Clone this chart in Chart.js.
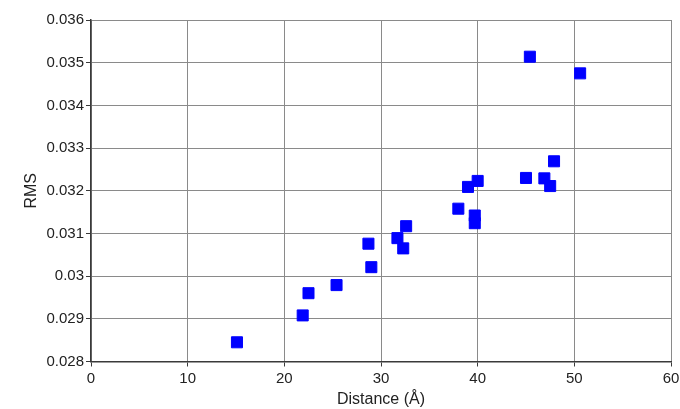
<!DOCTYPE html>
<html>
<head>
<meta charset="utf-8">
<script src="https://cdn.jsdelivr.net/npm/chart.js@4.4.1/dist/chart.umd.min.js"></script>
<style>
  html, body { margin: 0; padding: 0; background: #ffffff; }
  #wrap { width: 680px; height: 409px; }
</style>
</head>
<body>
<div id="wrap"><canvas id="chart" width="680" height="409"></canvas></div>
<script>
// Distance (Å) against RMS for each measured pair
const distance = [15.1, 21.9, 22.5, 25.4, 28.7, 29.0, 31.7, 32.6, 32.3, 38.0,
                  39.7, 39.7, 39.0, 40.0, 45.4, 50.6, 45.0, 46.9, 47.5, 47.9];
const rms = [0.02845, 0.02908, 0.02960, 0.02979, 0.03076, 0.03021, 0.03089, 0.03117, 0.03065, 0.03158,
             0.03142, 0.03124, 0.03209, 0.03223, 0.03514, 0.03475, 0.03230, 0.03229, 0.03211, 0.03269];

const xTicks = [0, 10, 20, 30, 40, 50, 60];
const yTicks = [0.028, 0.029, 0.030, 0.031, 0.032, 0.033, 0.034, 0.035, 0.036];

const points = distance.map((d, i) => ({ x: d, y: rms[i] }));

const FONT = "'Liberation Sans', Arial, sans-serif";
const gridColor = '#8a8a8a';
const axisColor = '#3a3a3a';

new Chart(document.getElementById('chart'), {
  type: 'scatter',
  data: {
    datasets: [{
      data: points,
      pointStyle: 'rect',
      pointRadius: 7.8,
      pointHoverRadius: 7.8,
      backgroundColor: '#0000ff',
      borderColor: '#0000ff',
      borderWidth: 1
    }]
  },
  options: {
    responsive: false,
    animation: false,
    events: [],
    layout: { padding: { top: 20, right: 9, left: 0, bottom: 0 } },
    plugins: { legend: { display: false }, tooltip: { enabled: false } },
    scales: {
      x: {
        type: 'linear',
        min: xTicks[0],
        max: xTicks[xTicks.length - 1],
        afterBuildTicks: s => { s.ticks = xTicks.map(v => ({ value: v })); },
        afterFit: s => { s.height = 47.5; s.paddingLeft = 0; s.paddingRight = 0; },
        grid: { color: gridColor, lineWidth: 1, drawTicks: true, tickLength: 5, tickColor: axisColor },
        border: { color: axisColor, width: 1.5 },
        ticks: { color: '#222', font: { family: FONT, size: 15 }, padding: 3, maxRotation: 0,
                 callback: v => String(v) },
        title: { display: true, text: 'Distance (Å)', color: '#222',
                 font: { family: FONT, size: 16 }, padding: { top: 0, bottom: 0 } }
      },
      y: {
        type: 'linear',
        min: yTicks[0],
        max: yTicks[yTicks.length - 1],
        afterBuildTicks: s => { s.ticks = yTicks.map(v => ({ value: v })); },
        afterFit: s => { s.width = 91; s.paddingTop = 0; s.paddingBottom = 0; },
        grid: { color: gridColor, lineWidth: 1, drawTicks: true, tickLength: 5, tickColor: axisColor },
        border: { color: axisColor, width: 1.5 },
        ticks: { color: '#222', font: { family: FONT, size: 15 }, padding: 2,
                 callback: v => String(+v.toFixed(3)) },
        title: { display: true, text: 'RMS', color: '#222',
                 font: { family: FONT, size: 16 }, padding: { top: 22, bottom: 0 } }
      }
    }
  }
});
</script>
</body>
</html>
